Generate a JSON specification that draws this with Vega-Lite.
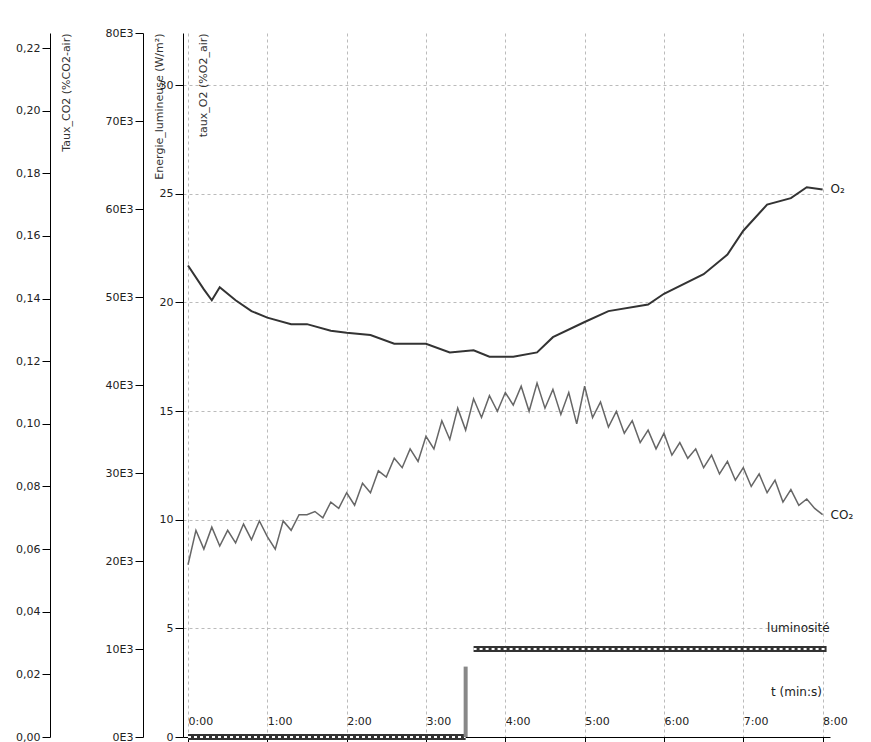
{
"$schema":"https://vega.github.io/schema/vega-lite/v6.json",
"width":647,"height":704,
"autosize":"none",
"padding":{"left":183,"top":33,"right":41,"bottom":5},
"background":"white",
"config":{"view":{"stroke":null},"axis":{"labelFont":"DejaVu Sans","titleFont":"DejaVu Sans","labelFontSize":11,"labelColor":"#222","domainColor":"#000","tickColor":"#000","titleFontWeight":"normal","titleFontSize":11,"titleColor":"#333"}},
"datasets":{
"o2":[{"t":0,"v":21.7},{"t":0.2,"v":20.6},{"t":0.3,"v":20.1},{"t":0.4,"v":20.7},{"t":0.6,"v":20.1},{"t":0.8,"v":19.6},{"t":1.0,"v":19.3},{"t":1.3,"v":19.0},{"t":1.5,"v":19.0},{"t":1.8,"v":18.7},{"t":2.0,"v":18.6},{"t":2.3,"v":18.5},{"t":2.6,"v":18.1},{"t":3.0,"v":18.1},{"t":3.3,"v":17.7},{"t":3.6,"v":17.8},{"t":3.8,"v":17.5},{"t":4.1,"v":17.5},{"t":4.4,"v":17.7},{"t":4.6,"v":18.4},{"t":5.0,"v":19.1},{"t":5.3,"v":19.6},{"t":5.8,"v":19.9},{"t":6.0,"v":20.4},{"t":6.5,"v":21.3},{"t":6.8,"v":22.2},{"t":7.0,"v":23.3},{"t":7.3,"v":24.5},{"t":7.6,"v":24.8},{"t":7.8,"v":25.3},{"t":8.0,"v":25.2}],
"co2":[{"t":0.0,"v":0.055},{"t":0.1,"v":0.066},{"t":0.2,"v":0.060},{"t":0.3,"v":0.067},{"t":0.4,"v":0.061},{"t":0.5,"v":0.066},{"t":0.6,"v":0.062},{"t":0.7,"v":0.068},{"t":0.8,"v":0.063},{"t":0.9,"v":0.069},{"t":1.0,"v":0.064},{"t":1.1,"v":0.060},{"t":1.2,"v":0.069},{"t":1.3,"v":0.066},{"t":1.4,"v":0.071},{"t":1.5,"v":0.071},{"t":1.6,"v":0.072},{"t":1.7,"v":0.070},{"t":1.8,"v":0.075},{"t":1.9,"v":0.073},{"t":2.0,"v":0.078},{"t":2.1,"v":0.074},{"t":2.2,"v":0.081},{"t":2.3,"v":0.078},{"t":2.4,"v":0.085},{"t":2.5,"v":0.083},{"t":2.6,"v":0.089},{"t":2.7,"v":0.086},{"t":2.8,"v":0.092},{"t":2.9,"v":0.088},{"t":3.0,"v":0.096},{"t":3.1,"v":0.092},{"t":3.2,"v":0.101},{"t":3.3,"v":0.095},{"t":3.4,"v":0.105},{"t":3.5,"v":0.098},{"t":3.6,"v":0.108},{"t":3.7,"v":0.102},{"t":3.8,"v":0.109},{"t":3.9,"v":0.104},{"t":4.0,"v":0.110},{"t":4.1,"v":0.106},{"t":4.2,"v":0.112},{"t":4.3,"v":0.104},{"t":4.4,"v":0.113},{"t":4.5,"v":0.105},{"t":4.6,"v":0.111},{"t":4.7,"v":0.103},{"t":4.8,"v":0.110},{"t":4.9,"v":0.100},{"t":5.0,"v":0.112},{"t":5.1,"v":0.102},{"t":5.2,"v":0.107},{"t":5.3,"v":0.099},{"t":5.4,"v":0.104},{"t":5.5,"v":0.097},{"t":5.6,"v":0.101},{"t":5.7,"v":0.094},{"t":5.8,"v":0.098},{"t":5.9,"v":0.092},{"t":6.0,"v":0.097},{"t":6.1,"v":0.090},{"t":6.2,"v":0.094},{"t":6.3,"v":0.089},{"t":6.4,"v":0.092},{"t":6.5,"v":0.086},{"t":6.6,"v":0.090},{"t":6.7,"v":0.084},{"t":6.8,"v":0.088},{"t":6.9,"v":0.082},{"t":7.0,"v":0.086},{"t":7.1,"v":0.080},{"t":7.2,"v":0.084},{"t":7.3,"v":0.078},{"t":7.4,"v":0.082},{"t":7.5,"v":0.075},{"t":7.6,"v":0.079},{"t":7.7,"v":0.074},{"t":7.8,"v":0.076},{"t":7.9,"v":0.073},{"t":8.0,"v":0.071}],
"lum":[{"t":3.6,"v":10000,"g":"on"},{"t":8.05,"v":10000,"g":"on"},{"t":0,"v":0,"g":"off"},{"t":3.5,"v":0,"g":"off"}],
"spike":[{"t":3.5,"v":8000}],
"labels":[{"t":8.1,"v":25.2,"s":"O₂"},{"t":8.1,"v":10.2,"s":"CO₂"},{"t":7.3,"v":5.0,"s":"luminosité"},{"t":7.35,"v":2.05,"s":"t (min:s)"}]
},
"encoding":{"x":{"field":"t","type":"quantitative","scale":{"domain":[0,8.03],"nice":false},
   "axis":{"values":[0,1,2,3,4,5,6,7,8],"labelExpr":"datum.value+':00'","title":null,"grid":true,"gridDash":[3,3],"gridColor":"#bbb","labelAlign":"left","labelPadding":-16,"labelBaseline":"bottom","tickSize":5}}},
"layer":[
{"data":{"name":"o2"},"mark":{"type":"line","color":"#333","strokeWidth":2},
 "encoding":{
  "y":{"field":"v","type":"quantitative","scale":{"domain":[0,32.4],"nice":false},
   "axis":{"orient":"left","values":[0,5,10,15,20,25,30],"grid":true,"gridDash":[3,3],"gridColor":"#bbb","title":"taux_O2 (%O2_air)","titleAngle":270,"titleX":14,"titleY":0,"titleAlign":"right","titleBaseline":"top","tickSize":8}}}},
{"data":{"name":"co2"},"mark":{"type":"line","color":"#666","strokeWidth":1.5},
 "encoding":{
  "y":{"field":"v","type":"quantitative","scale":{"domain":[0,0.2248],"nice":false},
   "axis":{"orient":"left","offset":133,"values":[0,0.02,0.04,0.06,0.08,0.1,0.12,0.14,0.16,0.18,0.2,0.22],"labelExpr":"replace(format(datum.value,'.2f'),'.',',')","title":"Taux_CO2 (%CO2-air)","titleAngle":270,"titleX":10,"titleY":0,"titleAlign":"right","titleBaseline":"top","tickSize":8}}}},
{"data":{"name":"lum"},"mark":{"type":"line","color":"#333","strokeWidth":6},
 "encoding":{"detail":{"field":"g"},
  "y":{"field":"v","type":"quantitative","scale":{"domain":[0,80000],"nice":false},
   "axis":{"orient":"left","offset":40,"values":[0,10000,20000,30000,40000,50000,60000,70000,80000],"labelExpr":"(datum.value/1000)+'E3'","title":"Energie_lumineuse (W/m²)","titleAngle":270,"titleX":10,"titleY":0,"titleAlign":"right","titleBaseline":"top","tickSize":8}}}},
{"data":{"name":"lum"},"mark":{"type":"line","color":"white","strokeWidth":2,"strokeDash":[3,3],"clip":false},
 "encoding":{"detail":{"field":"g"},
  "y":{"field":"v","type":"quantitative","scale":{"domain":[0,80000],"nice":false},"axis":null}}},
{"data":{"name":"spike"},"mark":{"type":"bar","color":"#888","width":4},
 "encoding":{
  "y":{"field":"v","type":"quantitative","scale":{"domain":[0,80000],"nice":false},"axis":null}}},
{"data":{"name":"labels"},"mark":{"type":"text","align":"left","font":"DejaVu Sans","fontSize":12,"color":"#222","clip":false},
 "encoding":{"text":{"field":"s"},
  "y":{"field":"v","type":"quantitative","scale":{"domain":[0,32.4],"nice":false},"axis":null}}}
],
"resolve":{"scale":{"y":"independent"}}
}
